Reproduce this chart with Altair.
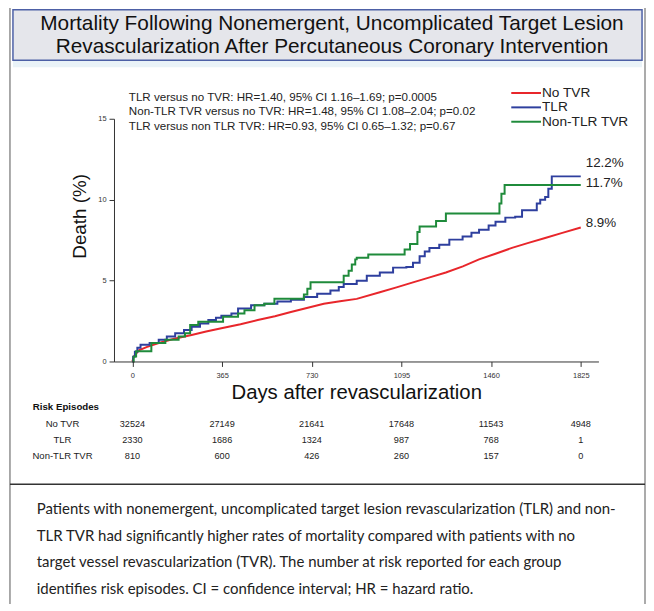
import altair as alt
import pandas as pd

# ---------------- data ----------------
series = ["No TVR", "TLR", "Non-TLR TVR"]
colors = ["#e8262b", "#2e3f9e", "#1f8b3b"]

red_days = [0, 5, 26, 60, 107, 170, 241, 300, 362, 440, 510, 580, 645, 710, 779, 845,
            913, 1007, 1075, 1142, 1210, 1276, 1345, 1411, 1478, 1545, 1612, 1680, 1750, 1825]
red_vals = [0, 0.3, 0.69, 0.9, 1.14, 1.4, 1.64, 1.85, 2.05, 2.3, 2.56, 2.8, 3.06, 3.3, 3.57, 3.72,
            3.87, 4.28, 4.58, 4.89, 5.2, 5.5, 5.88, 6.31, 6.66, 7.02, 7.33, 7.63, 7.95, 8.28]

blue_days = [0, 3, 10, 20, 33, 70, 107, 140, 174, 210, 241, 275, 309, 340, 362, 403, 430, 483,
             537, 590, 645, 698, 752, 806, 840, 860, 913, 954, 1007, 1061, 1115, 1142, 1169,
             1190, 1209, 1249, 1290, 1344, 1380, 1411, 1450, 1478, 1518, 1558, 1586, 1646,
             1660, 1680, 1693, 1707, 1825]
blue_vals = [0, 0.3, 0.6, 0.85, 1.03, 1.15, 1.34, 1.55, 1.74, 1.95, 2.15, 2.35, 2.56, 2.7, 2.82,
             2.96, 3.27, 3.47, 3.57, 3.7, 3.81, 3.98, 4.18, 4.38, 4.6, 4.79, 4.99, 5.3, 5.5, 5.8,
             5.84, 6.1, 6.51, 6.8, 7.02, 7.22, 7.53, 7.73, 7.95, 8.14, 8.4, 8.64, 8.89, 8.95,
             9.35, 9.76, 10.0, 10.16, 10.67, 11.44, 11.44]

green_days = [0, 5, 15, 77, 134, 188, 214, 235, 268, 369, 430, 456, 497, 537, 578, 698, 712,
              725, 860, 880, 893, 907, 913, 960, 1108, 1130, 1160, 1169, 1236, 1276, 1494,
              1502, 1515, 1825]
green_vals = [0, 0.3, 0.63, 1.14, 1.34, 1.54, 1.75, 2.25, 2.45, 2.76, 2.96, 3.16, 3.47, 3.57,
              3.88, 4.14, 4.5, 4.89, 5.3, 5.6, 6.0, 6.31, 6.41, 6.61, 6.92, 7.26, 8.0, 8.34,
              8.68, 9.15, 9.76, 10.37, 10.91, 10.91]

x_ticks = [0, 365, 730, 1095, 1460, 1825]
y_ticks = [0, 5, 10, 15]

risk_no_tvr = [32524, 27149, 21641, 17648, 11543, 4948]
risk_tlr = [2330, 1686, 1324, 987, 768, 1]
risk_non_tlr = [810, 600, 426, 260, 157, 0]

title_lines = ["Mortality Following Nonemergent, Uncomplicated Target Lesion",
               "Revascularization After Percutaneous Coronary Intervention"]
hr_lines = ["TLR versus no TVR: HR=1.40, 95% CI 1.16\u20131.69; p=0.0005",
            "Non-TLR TVR versus no TVR: HR=1.48, 95% CI 1.08\u20132.04; p=0.02",
            "TLR versus non TLR TVR: HR=0.93, 95% CI 0.65\u20131.32; p=0.67"]
end_labels = ["12.2%", "11.7%", "8.9%"]
caption_lines = [
    "Patients with nonemergent, uncomplicated target lesion revascularization (TLR) and non-",
    "TLR TVR had significantly higher rates of mortality compared with patients with no",
    "target vessel revascularization (TVR). The number at risk reported for each group",
    "identifies risk episodes. CI = confidence interval; HR = hazard ratio.",
]

# ---------------- layout (page pixels -> plot-relative values) ----------------
PL, PT = 115, 117          # page position of the plot origin
W, H = 489, 245
def X(px):
    return px - PL
def Y(py):
    return py - PT

FONT = "Liberation Sans"

curves = pd.concat([
    pd.DataFrame({"day": red_days, "val": red_vals, "grp": series[0]}),
    pd.DataFrame({"day": blue_days, "val": blue_vals, "grp": series[1]}),
    pd.DataFrame({"day": green_days, "val": green_vals, "grp": series[2]}),
])

one = pd.DataFrame({"k": [0]})

xscale = alt.Scale(domain=[-75, 1897], nice=False, zero=False)
yscale = alt.Scale(domain=[0, 15], nice=False)
cscale = alt.Scale(domain=series, range=colors)

x_axis = alt.Axis(values=x_ticks, format="d", tickSize=5, labelFontSize=7.5, labelPadding=5,
                  labelFont=FONT, labelColor="#333", domainColor="#333", tickColor="#333",
                  title="Days after revascularization", titleFont=FONT, titleFontSize=20.5,
                  titleFontWeight="normal", titleColor="#111", titleY=31,
                  titleBaseline="middle", grid=False, zindex=1)
y_axis = alt.Axis(values=y_ticks, tickSize=5, labelFontSize=7.5, labelPadding=3,
                  labelFont=FONT, labelColor="#333", domainColor="#333", tickColor="#333",
                  title="Death (%)", titleFont=FONT, titleFontSize=19,
                  titleFontWeight="normal", titleColor="#111", titleX=-35, titleY=98,
                  titleAngle=270, titleAlign="center", titleBaseline="middle", grid=False,
                  zindex=1)

layers = []

# decorations
layers.append(alt.Chart(one).mark_rect(fill="white", stroke="#555", strokeWidth=1).encode(
    x=alt.value(X(10)), x2=alt.value(X(651)), y=alt.value(Y(3)), y2=alt.value(Y(700))))
layers.append(alt.Chart(one).mark_rect(fill="#eaf3f8").encode(
    x=alt.value(X(13)), x2=alt.value(X(648)), y=alt.value(Y(57)), y2=alt.value(Y(65))))
layers.append(alt.Chart(one).mark_rect(fill="#e5e6eb", stroke="#4d60a6", strokeWidth=1.5).encode(
    x=alt.value(X(13)), x2=alt.value(X(648)), y=alt.value(Y(7)), y2=alt.value(Y(58))))
layers.append(alt.Chart(one).mark_rule(color="#333", strokeWidth=1.5).encode(
    x=alt.value(X(10)), x2=alt.value(X(651)), y=alt.value(Y(486))))

# title
for i, t in enumerate(title_lines):
    layers.append(alt.Chart(one).mark_text(text=t, font=FONT, fontSize=21, color="#111",
                                           align="center", baseline="middle").encode(
        x=alt.value(X(335)), y=alt.value(Y(21 + 24 * i))))

# curves
base = alt.Chart(curves).encode(
    x=alt.X("day:Q", scale=xscale, axis=x_axis),
    y=alt.Y("val:Q", scale=yscale, axis=y_axis),
    color=alt.Color("grp:N", scale=cscale, legend=None),
    detail="grp:N",
)
layers.append(base.transform_filter(alt.datum.grp == series[0]).mark_line(strokeWidth=2))
layers.append(base.transform_filter(alt.datum.grp != series[0]).mark_line(
    strokeWidth=2, interpolate="step-after"))

# HR annotation
for i, t in enumerate(hr_lines):
    layers.append(alt.Chart(one).mark_text(text=t, font=FONT, fontSize=11.7, color="#222",
                                           align="left", baseline="middle").encode(
        x=alt.value(X(130)), y=alt.value(Y(95 + 14.5 * i))))

# legend (manual)
for i, (s, c) in enumerate(zip(series, colors)):
    yy = Y(91 + 14.5 * i)
    layers.append(alt.Chart(one).mark_rule(color=c, strokeWidth=2).encode(
        x=alt.value(X(516)), x2=alt.value(X(546)), y=alt.value(yy)))
    layers.append(alt.Chart(one).mark_text(text=s, font=FONT, fontSize=13.8, color="#222",
                                           align="left", baseline="middle").encode(
        x=alt.value(X(547)), y=alt.value(yy)))

# end labels
end_df = pd.DataFrame({"day": [x_ticks[-1]] * 3, "lab": end_labels})
for i, ypx in enumerate([162, 182, 222]):
    layers.append(alt.Chart(end_df.iloc[[i]]).mark_text(
        font=FONT, fontSize=13.5, color="#222", align="left", baseline="middle", dx=5).encode(
        x=alt.X("day:Q", scale=xscale), y=alt.value(Y(ypx)), text="lab:N"))

# risk table
layers.append(alt.Chart(one).mark_text(text="Risk Episodes", font=FONT, fontSize=9.8,
                                       fontWeight="bold", color="#111", align="left",
                                       baseline="middle").encode(
    x=alt.value(X(33)), y=alt.value(Y(408))))
for i, (s, vals) in enumerate(zip(series, [risk_no_tvr, risk_tlr, risk_non_tlr])):
    yy = Y(425 + 16 * i)
    layers.append(alt.Chart(one).mark_text(text=s, font=FONT, fontSize=9.6, color="#222",
                                           align="center", baseline="middle").encode(
        x=alt.value(X(63)), y=alt.value(yy)))
    rdf = pd.DataFrame({"day": x_ticks, "n": vals})
    layers.append(alt.Chart(rdf).mark_text(font=FONT, fontSize=9.2, color="#222",
                                           align="center", baseline="middle").encode(
        x=alt.X("day:Q", scale=xscale), y=alt.value(yy), text="n:Q"))

# caption
for i, t in enumerate(caption_lines):
    layers.append(alt.Chart(one).mark_text(text=t, font="Lato", fontSize=15.1, color="#222",
                                           align="left", baseline="middle").encode(
        x=alt.value(X(37)), y=alt.value(Y(511 + 26.8 * i))))

chart = alt.layer(*layers).properties(
    width=W, height=H,
    autosize=alt.AutoSizeParams(type="none"),
    padding={"left": PL - 8, "top": PT - 8, "right": 644 - (PL - 8) - W, "bottom": 596 - (PT - 8) - H},
).configure_view(stroke=None).configure(background="white")

chart.save("out.html", embed_options={"renderer": "svg", "actions": False})
